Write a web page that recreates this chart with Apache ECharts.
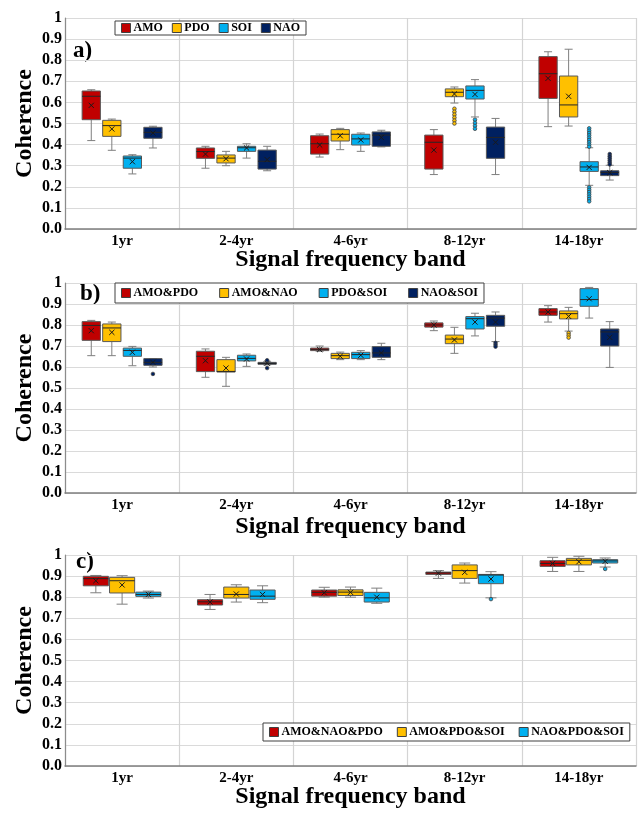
<!DOCTYPE html>
<html>
<head>
<meta charset="utf-8">
<script src="https://cdn.jsdelivr.net/npm/echarts@6/dist/echarts.min.js"></script>
<style>
  html, body { margin: 0; padding: 0; background: #fff; }
  #chart { width: 638px; height: 814px; }
</style>
</head>
<body>
<div id="chart"></div>
<script>
const bands = ['1yr', '2-4yr', '4-6yr', '8-12yr', '14-18yr'];
const yTicks = [0, 0.1, 0.2, 0.3, 0.4, 0.5, 0.6, 0.7, 0.8, 0.9, 1];

// rows per band: [min, q1, median, q3, max, mean]
// panel a
const amo = [[0.419, 0.518, 0.629, 0.654, 0.66, 0.586], [0.288, 0.335, 0.367, 0.384, 0.392, 0.355], [0.341, 0.355, 0.404, 0.442, 0.45, 0.398], [0.258, 0.284, 0.411, 0.445, 0.471, 0.374], [0.485, 0.619, 0.736, 0.817, 0.84, 0.714]];
const pdo = [[0.373, 0.439, 0.49, 0.515, 0.521, 0.474], [0.30, 0.313, 0.336, 0.351, 0.368, 0.333], [0.376, 0.417, 0.449, 0.471, 0.477, 0.442], [0.597, 0.627, 0.648, 0.664, 0.673, 0.64], [0.488, 0.531, 0.588, 0.725, 0.852, 0.629]];
const soi = [[0.261, 0.288, 0.336, 0.346, 0.352, 0.319], [0.336, 0.368, 0.385, 0.392, 0.404, 0.384], [0.368, 0.398, 0.427, 0.449, 0.455, 0.422], [0.531, 0.616, 0.657, 0.678, 0.708, 0.638], [0.207, 0.273, 0.294, 0.319, 0.385, 0.292]];
const nao = [[0.384, 0.43, 0.458, 0.482, 0.487, 0.455], [0.276, 0.284, 0.321, 0.374, 0.392, 0.329], [0.389, 0.392, 0.445, 0.46, 0.468, 0.434], [0.258, 0.335, 0.434, 0.483, 0.524, 0.411], [0.232, 0.253, 0.268, 0.276, 0.302, 0.267]];
// outliers: [band index, value]
const pdoOut = [[3, 0.57], [3, 0.556], [3, 0.542], [3, 0.528], [3, 0.514], [3, 0.50]];
const soiOut = [[3, 0.518], [3, 0.503], [3, 0.489], [3, 0.475],
  [4, 0.477], [4, 0.466], [4, 0.455], [4, 0.444], [4, 0.433], [4, 0.422], [4, 0.411], [4, 0.40], [4, 0.39],
  [4, 0.197], [4, 0.186], [4, 0.175], [4, 0.164], [4, 0.153], [4, 0.142], [4, 0.131]];
const naoOut = [[4, 0.355], [4, 0.345], [4, 0.335], [4, 0.325], [4, 0.315], [4, 0.306]];

// panel b
const amoPdo = [[0.654, 0.727, 0.798, 0.816, 0.822, 0.773], [0.551, 0.578, 0.651, 0.675, 0.686, 0.63], [0.675, 0.678, 0.684, 0.69, 0.70, 0.683], [0.773, 0.79, 0.80, 0.81, 0.819, 0.80], [0.814, 0.846, 0.862, 0.878, 0.892, 0.862]];
const amoNao = [[0.654, 0.721, 0.786, 0.805, 0.814, 0.765], [0.508, 0.576, 0.579, 0.635, 0.646, 0.595], [0.635, 0.64, 0.654, 0.665, 0.671, 0.651], [0.665, 0.711, 0.733, 0.752, 0.789, 0.729], [0.771, 0.829, 0.854, 0.867, 0.884, 0.841]];
const pdoSoi = [[0.606, 0.651, 0.679, 0.69, 0.698, 0.67], [0.603, 0.629, 0.641, 0.656, 0.662, 0.638], [0.635, 0.64, 0.659, 0.67, 0.678, 0.656], [0.748, 0.781, 0.83, 0.84, 0.856, 0.814], [0.833, 0.889, 0.921, 0.973, 0.979, 0.925]];
const naoSoi = [[0.60, 0.608, 0.622, 0.64, 0.64, 0.622], [0.61, 0.613, 0.617, 0.622, 0.625, 0.618], [0.635, 0.646, 0.667, 0.697, 0.713, 0.667], [0.721, 0.794, 0.833, 0.846, 0.862, 0.814], [0.598, 0.70, 0.767, 0.781, 0.816, 0.741]];
const amoNaoOut = [[4, 0.762], [4, 0.751], [4, 0.74]];
const naoSoiOut = [[0, 0.567], [1, 0.632], [1, 0.595], [3, 0.715], [3, 0.706], [3, 0.697]];

// panel c
const amoNaoPdo = [[0.821, 0.854, 0.888, 0.899, 0.903, 0.878], [0.742, 0.763, 0.778, 0.788, 0.813, 0.777], [0.80, 0.805, 0.823, 0.834, 0.847, 0.821], [0.889, 0.908, 0.915, 0.919, 0.926, 0.914], [0.922, 0.946, 0.96, 0.973, 0.989, 0.96]];
const amoPdoSoi = [[0.767, 0.82, 0.878, 0.894, 0.902, 0.858], [0.777, 0.796, 0.813, 0.848, 0.859, 0.815], [0.80, 0.808, 0.824, 0.835, 0.848, 0.823], [0.867, 0.889, 0.926, 0.953, 0.962, 0.918], [0.922, 0.953, 0.975, 0.984, 0.994, 0.968]];
const naoPdoSoi = [[0.796, 0.804, 0.813, 0.824, 0.829, 0.813], [0.774, 0.79, 0.805, 0.834, 0.854, 0.813], [0.771, 0.777, 0.797, 0.823, 0.843, 0.80], [0.797, 0.864, 0.905, 0.908, 0.921, 0.886], [0.943, 0.962, 0.972, 0.978, 0.986, 0.97]];
const naoPdoSoiOut = [[3, 0.791], [4, 0.934]];

const RED = '#C00000', YEL = '#FFC000', BLU = '#00B0F0', NAV = '#002060';
const FONT = '"Liberation Serif", "Times New Roman", serif';

const panels = [
  { top: 18, height: 211, nameGap: 19, wf: 0.16, sf: 0.18, legend: { left: 115, top: 21, padding: [1, 6], gap: 9 },
    groups: [['AMO', amo, RED, []], ['PDO', pdo, YEL, pdoOut], ['SOI', soi, BLU, soiOut], ['NAO', nao, NAV, naoOut]] },
  { top: 283, height: 210, nameGap: 22, wf: 0.16, sf: 0.18, legend: { left: 115, top: 283, padding: [4, 6], gap: 21 },
    groups: [['AMO&PDO', amoPdo, RED, []], ['AMO&NAO', amoNao, YEL, amoNaoOut], ['PDO&SOI', pdoSoi, BLU, []], ['NAO&SOI', naoSoi, NAV, naoSoiOut]] },
  { top: 555, height: 211, nameGap: 19, wf: 0.22, sf: 0.23, legend: { left: 263, top: 723, padding: [3, 6], gap: 14 },
    groups: [['AMO&NAO&PDO', amoNaoPdo, RED, []], ['AMO&PDO&SOI', amoPdoSoi, YEL, []], ['NAO&PDO&SOI', naoPdoSoi, BLU, naoPdoSoiOut]] }
];

function boxRender(k, n, wf, sf, color) {
  return function (params, api) {
    const band = api.size([1, 0])[0];
    const cat = api.value(0);
    const cx = api.coord([cat, 0])[0] + (k - (n - 1) / 2) * sf * band;
    const w = wf * band;
    const y = i => api.coord([cat, api.value(i)])[1];
    const lo = y(1), q1 = y(2), med = y(3), q3 = y(4), hi = y(5), mean = y(6);
    const cap = w * 0.22;
    const m = 2.6;
    const grey = { stroke: '#7f7f7f', lineWidth: 1 };
    return {
      type: 'group',
      children: [
        { type: 'line', shape: { x1: cx, y1: hi, x2: cx, y2: q3 }, style: grey },
        { type: 'line', shape: { x1: cx, y1: q1, x2: cx, y2: lo }, style: grey },
        { type: 'line', shape: { x1: cx - cap, y1: hi, x2: cx + cap, y2: hi }, style: grey },
        { type: 'line', shape: { x1: cx - cap, y1: lo, x2: cx + cap, y2: lo }, style: grey },
        { type: 'rect', shape: { x: cx - w / 2, y: q3, width: w, height: Math.max(q1 - q3, 1) },
          style: { fill: color, stroke: '#595959', lineWidth: 1 } },
        { type: 'line', shape: { x1: cx - w / 2, y1: med, x2: cx + w / 2, y2: med }, style: { stroke: '#262626', lineWidth: 1 } },
        { type: 'line', shape: { x1: cx - m, y1: mean - m, x2: cx + m, y2: mean + m }, style: { stroke: '#1a1a1a', lineWidth: 1 } },
        { type: 'line', shape: { x1: cx - m, y1: mean + m, x2: cx + m, y2: mean - m }, style: { stroke: '#1a1a1a', lineWidth: 1 } }
      ]
    };
  };
}

function outRender(k, n, sf, color) {
  return function (params, api) {
    const band = api.size([1, 0])[0];
    const cat = api.value(0);
    const p = api.coord([cat, api.value(1)]);
    return {
      type: 'circle',
      shape: { cx: p[0] + (k - (n - 1) / 2) * sf * band, cy: p[1], r: 1.8 },
      style: { fill: color, stroke: '#404040', lineWidth: 0.8 }
    };
  };
}

const grid = [], xAxis = [], yAxis = [], series = [], legend = [];

panels.forEach((p, pi) => {
  grid.push({ left: 65, right: 2, top: p.top, height: p.height, outerBoundsMode: 'none' });
  xAxis.push({
    type: 'category', gridIndex: pi, data: bands,
    name: 'Signal frequency band', nameLocation: 'middle', nameGap: p.nameGap, nameMoveOverlap: false,
    nameTextStyle: { fontFamily: FONT, fontWeight: 'bold', fontSize: 24, color: '#000' },
    axisLine: { lineStyle: { color: '#7f7f7f', width: 1.5 } },
    axisTick: { show: false },
    axisLabel: { fontFamily: FONT, fontWeight: 'bold', fontSize: 15, color: '#000', margin: 5 },
    splitLine: { show: true, lineStyle: { color: '#d4d4d4', width: 1.2 } }
  });
  yAxis.push({
    type: 'value', gridIndex: pi, min: 0, max: 1, interval: 0.1,
    name: 'Coherence', nameLocation: 'middle', nameGap: 28, nameMoveOverlap: false,
    nameTextStyle: { fontFamily: FONT, fontWeight: 'bold', fontSize: 24, color: '#000' },
    axisLine: { show: true, lineStyle: { color: '#8c8c8c', width: 1.2 } },
    axisTick: { show: false },
    axisLabel: {
      fontFamily: FONT, fontWeight: 'bold', fontSize: 16, color: '#000', margin: 3,
      formatter: v => {
        const t = yTicks.find(s => Math.abs(s - v) < 1e-6);
        return t === 1 ? '1' : (t !== undefined ? t : v).toFixed(1);
      }
    },
    splitLine: { lineStyle: { color: '#dadada', width: 1.2 } }
  });
  const n = p.groups.length;
  p.groups.forEach((g, k) => {
    const [name, rows, color, outs] = g;
    series.push({
      type: 'custom', name, xAxisIndex: pi, yAxisIndex: pi,
      itemStyle: { color, borderColor: '#404040' },
      renderItem: boxRender(k, n, p.wf, p.sf, color),
      encode: { x: 0, y: [1, 2, 3, 4, 5, 6] },
      data: rows.map((r, i) => [i].concat(r))
    });
    if (outs.length) {
      series.push({
        type: 'custom', name, xAxisIndex: pi, yAxisIndex: pi,
        itemStyle: { color },
        renderItem: outRender(k, n, p.sf, color),
        encode: { x: 0, y: 1 },
        data: outs
      });
    }
  });
  legend.push({
    left: p.legend.left, top: p.legend.top, orient: 'horizontal',
    padding: p.legend.padding, itemGap: p.legend.gap, itemWidth: 9, itemHeight: 9,
    borderColor: '#404040', borderWidth: 1, backgroundColor: '#fff',
    textStyle: { fontFamily: FONT, fontWeight: 'bold', fontSize: 12, color: '#000', padding: [0, 0, 0, -2] },
    selectedMode: false,
    data: p.groups.map(g => ({ name: g[0], icon: 'rect', itemStyle: { color: g[2], borderColor: '#404040', borderWidth: 1 } }))
  });
});

const chart = echarts.init(document.getElementById('chart'));
chart.setOption({
  animation: false,
  backgroundColor: '#fff',
  grid, xAxis, yAxis, series, legend,
  graphic: [
    { type: 'text', left: 73, top: 40, style: { text: 'a)', font: 'bold 23px ' + FONT, fill: '#000' } },
    { type: 'text', left: 80, top: 283, style: { text: 'b)', font: 'bold 23px ' + FONT, fill: '#000' } },
    { type: 'text', left: 76, top: 551, style: { text: 'c)', font: 'bold 23px ' + FONT, fill: '#000' } }
  ]
});
</script>
</body>
</html>
